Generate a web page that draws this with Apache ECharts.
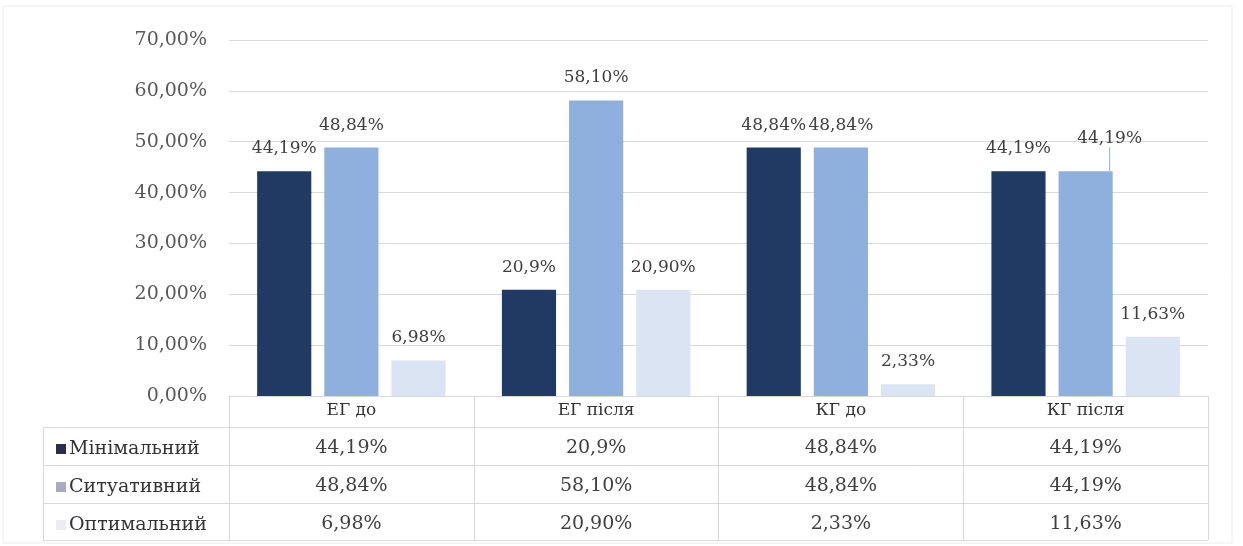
<!DOCTYPE html>
<html>
<head>
<meta charset="utf-8">
<script src="https://cdn.jsdelivr.net/npm/echarts@6/dist/echarts.min.js"></script>
<style>
  html, body { margin: 0; padding: 0; background: #ffffff; }
  #chart { width: 1243px; height: 546px; }
</style>
</head>
<body>
<div id="chart"></div>
<script>
// Groups along the x axis
const categories = ['ЕГ до', 'ЕГ після', 'КГ до', 'КГ після'];
// Level names (legend / table rows)
const seriesNames = ['Мінімальний', 'Ситуативний', 'Оптимальний'];
// Values as written in the data table (percent, decimal comma)
const minimalValues = ['44,19', '20,9', '48,84', '44,19'];
const situationalValues = ['48,84', '58,10', '48,84', '44,19'];
const optimalValues = ['6,98', '20,90', '2,33', '11,63'];
// Value axis ticks
const yTicks = [0, 10, 20, 30, 40, 50, 60, 70];

const seriesValues = [minimalValues, situationalValues, optimalValues];
const toNumber = s => Number(s.replace(',', '.'));
const fmtTick = v => v.toFixed(2).replace('.', ',') + '%';

const barColors = ['#203a64', '#8fb0dc', '#dae4f2'];
const keyColors = ['#2b2d4f', '#a9a9c2', '#ececf2'];

const FONT = 'DejaVu Serif';
const W = 1243, H = 546;
const GRID_LEFT = 229, GRID_RIGHT = 1208, GRID_TOP = 40, AXIS_Y = 396;
const TABLE_LEFT = 43;
const ROW_LINES = [427, 465, 503, 540];
const ROW_CENTERS = [448, 486, 524];
const LINE_COLOR = '#d9d9d9';

const chart = echarts.init(document.getElementById('chart'), null, { renderer: 'canvas' });

// Category header axis + one label-only axis per table row
const xAxes = [{
  type: 'category',
  data: categories,
  position: 'bottom',
  boundaryGap: true,
  axisLine: { show: true, lineStyle: { color: LINE_COLOR, width: 1 } },
  axisTick: { show: true, interval: 0, length: ROW_LINES[3] - AXIS_Y, lineStyle: { color: LINE_COLOR, width: 1 } },
  axisLabel: { interval: 0, margin: 6, fontFamily: FONT, fontSize: 17, color: '#333333' },
  splitLine: { show: false }
}];
seriesValues.forEach((vals, r) => {
  xAxes.push({
    type: 'category',
    data: categories,
    position: 'bottom',
    axisLine: { show: false },
    axisTick: { show: false },
    splitLine: { show: false },
    axisLabel: {
      interval: 0,
      margin: ROW_CENTERS[r] - AXIS_Y,
      verticalAlign: 'middle',
      fontFamily: FONT,
      fontSize: 19,
      color: '#404040',
      formatter: (v, i) => vals[i] + '%'
    }
  });
});

const series = seriesValues.map((vals, s) => {
  const item = {
    name: seriesNames[s],
    type: 'bar',
    xAxisIndex: 0,
    data: vals.map((v, i) => {
      const d = { value: toNumber(v) };
      if (s === 1 && i === 3) d.labelLine = { show: true, lineStyle: { color: '#8fb0dc', width: 1 } };
      return d;
    }),
    barGap: '24%',
    barCategoryGap: '23%',
    itemStyle: { color: barColors[s] },
    labelLine: { show: false },
    label: {
      show: true,
      position: 'top',
      distance: 14,
      fontFamily: FONT,
      fontSize: 17,
      color: '#404040',
      formatter: p => vals[p.dataIndex] + '%'
    }
  };
  if (s === 1) {
    // last label of this level is pulled up-right, joined to its bar by a guide line
    item.labelLayout = p => (p.dataIndex === 3 ? { dx: 24, dy: -10 } : {});
  }
  return item;
});

// Table border lines
const graphics = [
  { type: 'rect', shape: { x: 3, y: 6, width: 1229, height: 537 }, style: { fill: null, stroke: '#ececec', lineWidth: 1 }, silent: true }
];
ROW_LINES.forEach(y => {
  graphics.push({ type: 'line', shape: { x1: TABLE_LEFT, y1: y + 0.5, x2: GRID_RIGHT, y2: y + 0.5 }, style: { stroke: LINE_COLOR, lineWidth: 1 }, silent: true });
});
graphics.push({ type: 'line', shape: { x1: TABLE_LEFT + 0.5, y1: ROW_LINES[0], x2: TABLE_LEFT + 0.5, y2: ROW_LINES[3] }, style: { stroke: LINE_COLOR, lineWidth: 1 }, silent: true });

const option = {
  backgroundColor: '#ffffff',
  animation: false,
  textStyle: { fontFamily: FONT },
  grid: { left: GRID_LEFT, right: W - GRID_RIGHT, top: GRID_TOP, bottom: H - AXIS_Y, containLabel: false },
  legend: {
    orient: 'vertical',
    left: TABLE_LEFT + 8,
    top: ROW_CENTERS[0] - 14,
    itemWidth: 10,
    itemHeight: 10,
    itemGap: 18,
    selectedMode: false,
    icon: 'rect',
    textStyle: { fontFamily: FONT, fontSize: 19, color: '#333333', lineHeight: 20, padding: [0, 0, 0, -2] },
    data: seriesNames.map((n, i) => ({ name: n, itemStyle: { color: keyColors[i] } }))
  },
  xAxis: xAxes,
  yAxis: {
    type: 'value',
    min: yTicks[0],
    max: yTicks[yTicks.length - 1],
    interval: yTicks[1] - yTicks[0],
    axisLine: { show: false },
    axisTick: { show: false },
    axisLabel: { margin: 22, fontFamily: FONT, fontSize: 19, color: '#595959', formatter: fmtTick },
    splitLine: { show: true, lineStyle: { color: LINE_COLOR, width: 1 } }
  },
  series: series,
  graphic: graphics
};

chart.setOption(option);
</script>
</body>
</html>
